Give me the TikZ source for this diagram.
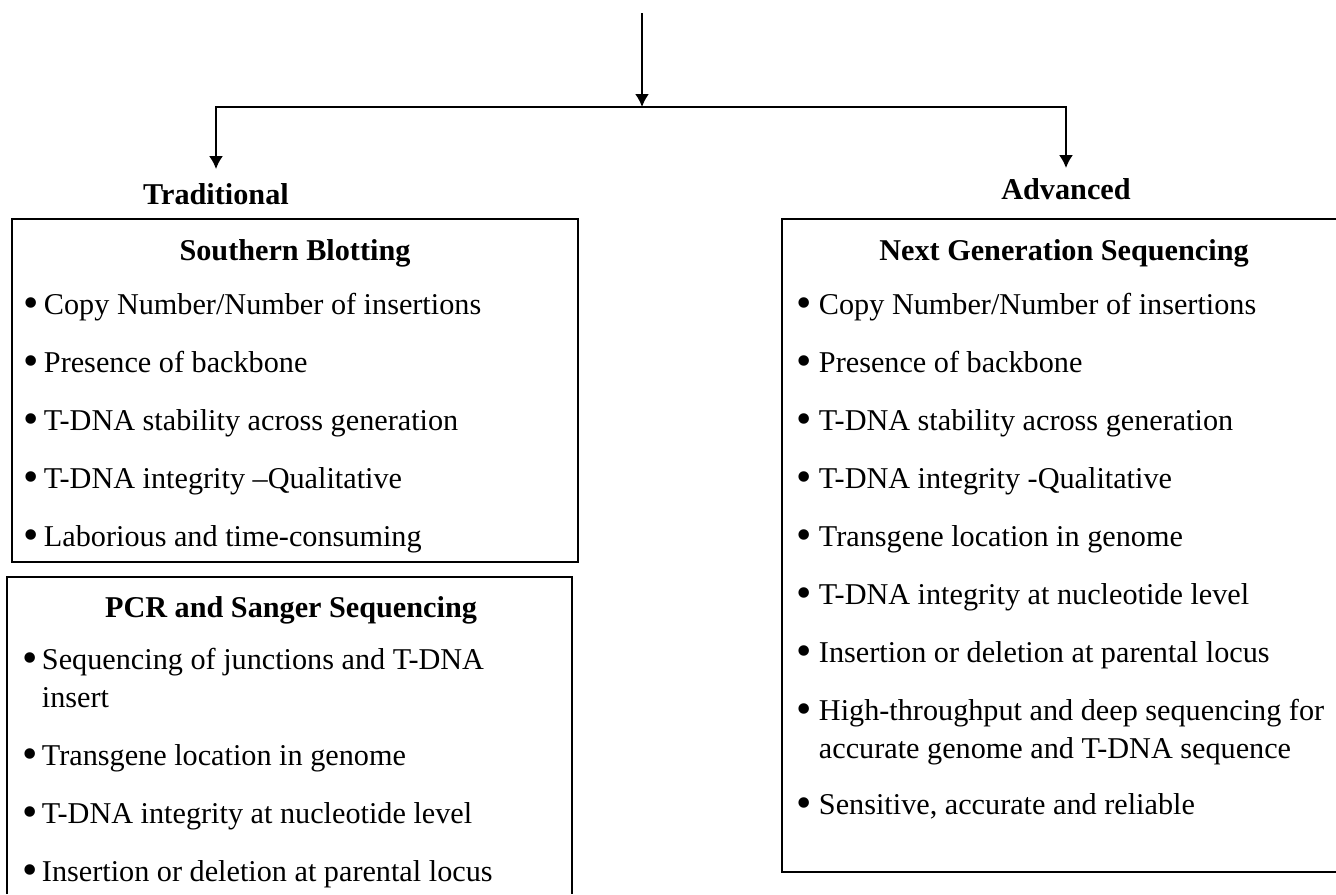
\documentclass[tikz,border=0pt]{standalone}
\usepackage{fontspec}
\setmainfont{Liberation Serif}
\usetikzlibrary{arrows.meta}

\newcommand{\gpuce}{\raisebox{-2.2pt}{\scalebox{1.45}{\textbullet}}}

\begin{document}
\begin{tikzpicture}[x=0.02cm, y=-0.02cm, line width=1.1pt,
                  >={Latex[length=0.26cm,width=0.28cm]},
                  tete/.style={font=\fontsize{17.2}{21}\selectfont\bfseries, inner sep=0pt, anchor=base},
                  titre/.style={font=\fontsize{17.2}{21}\selectfont\bfseries, inner sep=0pt, anchor=base},
                  puce/.style={font=\fontsize{17.2}{21}\selectfont, inner sep=0pt, anchor=base},
                  texte/.style={font=\fontsize{17.2}{21}\selectfont, inner sep=0pt, anchor=base west}]
\useasboundingbox (0,0) rectangle (1336,894);
% les fleches du haut
\coordinate (haut) at (642,13);
\coordinate (noeud) at (642,107);
\node[tete, outer sep=0.28cm] (trad) at (216,204) {Traditional};
\node[tete, outer sep=0.2cm] (avance) at (1066,199) {Advanced};
\draw[->] (haut) -- (noeud);
\draw[->] (noeud) -| (trad);
\draw[->] (noeud) -| (avance);
% les cadres
\draw (12,219) rectangle (578,562);
\draw (7,894) |- (572,577) -- (572,894);
\draw (1336,219) -| (782,872) -- (1336,872);
% Southern
\node[titre] (sb) at (295,260) {Southern Blotting};
\foreach \i/\y/\t in {1/314/{Copy Number/Number of insertions}, 2/372/Presence of backbone,
                      3/430/T-DNA stability across generation, 4/488/T-DNA integrity --Qualitative,
                      5/546/Laborious and time-consuming}
  {\node[puce] (sbp\i) at (31,\y) {\gpuce};
   \node[texte] (sbt\i) at (43,\y) {\t};};
% PCR
\node[titre] (pcr) at (291,617) {PCR and Sanger Sequencing};
\foreach \i/\y/\t in {1/669/Sequencing of junctions and T-DNA, 2/765/Transgene location in genome,
                      3/823/T-DNA integrity at nucleotide level, 4/881/Insertion or deletion at parental locus}
  {\node[puce] (pcrp\i) at (30,\y) {\gpuce};
   \node[texte] (pcrt\i) at (41,\y) {\t};};
\node[texte] (pcrs1) at (41,707) {insert};
% NGS
\node[titre] (ngs) at (1064,260) {Next Generation Sequencing};
\foreach \i/\y/\t in {1/314/{Copy Number/Number of insertions}, 2/372/Presence of backbone,
                      3/430/T-DNA stability across generation, 4/488/T-DNA integrity -Qualitative,
                      5/546/Transgene location in genome, 6/604/T-DNA integrity at nucleotide level,
                      7/662/Insertion or deletion at parental locus,
                      8/720/High-throughput and deep sequencing for, 9/814/{Sensitive, accurate and reliable}}
  {\node[puce] (ngsp\i) at (804,\y) {\gpuce};
   \node[texte] (ngst\i) at (818,\y) {\t};};
\node[texte] (ngss8) at (818,758) {accurate genome and T-DNA sequence};
\end{tikzpicture}
\end{document}
